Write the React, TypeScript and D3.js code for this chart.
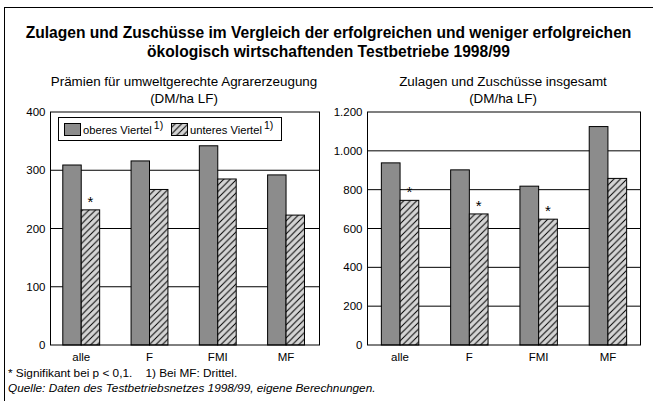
import * as d3 from 'd3';

// Betriebsformen
const categories = ['alle', 'F', 'FMI', 'MF'];

// Prämien für umweltgerechte Agrarerzeugung (DM/ha LF)
const praemienOben = [309, 316, 342, 292];
const praemienUnten = [232, 267, 285, 223];
const praemienSig = [true, false, false, false];
const praemienTicks = [0, 100, 200, 300, 400];

// Zulagen und Zuschüsse insgesamt (DM/ha LF)
const zulagenOben = [938, 902, 818, 1125];
const zulagenUnten = [745, 675, 648, 858];
const zulagenSig = [true, true, true, false];
const zulagenTicks = [0, 200, 400, 600, 800, 1000, 1200];

const DARK = '#8c8c8c';
const LIGHT = '#d4d4d4';
const FONT = '"Liberation Sans", Arial, sans-serif';

const de = d3.formatLocale({ decimal: ',', thousands: '.', grouping: [3], currency: ['', ' DM'] });
const fmt = de.format(',d');

type PanelProps = {
  left: number;
  right: number;
  align: number;
  oben: number[];
  unten: number[];
  sig: boolean[];
  ticks: number[];
  title: string[];
  legend?: boolean;
};

function Panel({ left, right, align, oben, unten, sig, ticks, title, legend }: PanelProps) {
  const top = 112;
  const bottom = 345;
  const yMax = ticks[ticks.length - 1];
  const y = d3.scaleLinear().domain([0, yMax]).range([bottom, top]);
  const x = d3
    .scaleBand()
    .domain(categories)
    .range([left, right])
    .paddingInner(0.46)
    .paddingOuter(0.2)
    .align(align);
  const sub = d3.scaleBand().domain(['o', 'u']).range([0, x.bandwidth()]);
  const cx = (left + right) / 2 - 1;

  return (
    <g>
      {title.map((t, i) => (
        <text key={i} x={cx} y={86 + i * 16.5} textAnchor="middle" fontSize={13.4}>
          {t}
        </text>
      ))}
      {ticks.map((t) => (
        <text key={t} x={left - 5} y={y(t) + 4} textAnchor="end" fontSize={11.5}>
          {fmt(t)}
        </text>
      ))}
      {ticks.slice(1, -1).map((t) => (
        <line key={t} x1={left} x2={right} y1={y(t)} y2={y(t)} stroke="#000" strokeWidth={1} />
      ))}
      {categories.map((c, i) => {
        const x0 = x(c)!;
        const bw = sub.bandwidth();
        return (
          <g key={c}>
            <rect
              x={x0 + sub('o')!}
              y={y(oben[i])}
              width={bw}
              height={bottom - y(oben[i])}
              fill={DARK}
              stroke="#000"
            />
            <rect
              x={x0 + sub('u')!}
              y={y(unten[i])}
              width={bw}
              height={bottom - y(unten[i])}
              fill="url(#hatch)"
              stroke="#000"
            />
            {sig[i] && (
              <text x={x0 + sub('u')! + bw / 2} y={y(unten[i]) - 3} textAnchor="middle" fontSize={15}>
                *
              </text>
            )}
            <text x={x0 + x.bandwidth() / 2} y={361} textAnchor="middle" fontSize={11.5}>
              {c}
            </text>
          </g>
        );
      })}
      <rect x={left} y={top} width={right - left} height={bottom - top} fill="none" stroke="#000" />
      {legend && (
        <g>
          <rect x={58.5} y={117.5} width={223} height={23} fill="#fff" stroke="#000" />
          <rect x={64.5} y={123.5} width={16} height={12} fill={DARK} stroke="#000" />
          <text x={83} y={134} fontSize={11.2}>
            oberes Viertel
            <tspan dx={2} dy={-5} fontSize={10.5}>1)</tspan>
          </text>
          <rect x={171.5} y={123.5} width={16} height={12} fill="url(#hatch)" stroke="#000" />
          <text x={190} y={134} fontSize={11.2}>
            unteres Viertel
            <tspan dx={2} dy={-5} fontSize={10.5}>1)</tspan>
          </text>
        </g>
      )}
    </g>
  );
}

export default function App() {
  return (
    <svg
      width={653}
      height={401}
      style={{ position: 'absolute', left: 0, top: 0, background: '#fff' }}
      fontFamily={FONT}
    >
      <defs>
        <pattern id="hatch" patternUnits="userSpaceOnUse" width={6.5} height={6.5}>
          <rect width={6.5} height={6.5} fill={LIGHT} />
          <path d="M0,6.5 L6.5,0 M-1,1 L1,-1 M5.5,7.5 L7.5,5.5" stroke="#000" strokeWidth={1} />
        </pattern>
      </defs>
      <rect x={4.5} y={7.5} width={660} height={410} fill="none" stroke="#000" />
      <text x={328.5} y={38} textAnchor="middle" fontSize={15.6} fontWeight="bold">
        Zulagen und Zuschüsse im Vergleich der erfolgreichen und weniger erfolgreichen
      </text>
      <text x={328.5} y={57} textAnchor="middle" fontSize={15.6} fontWeight="bold">
        ökologisch wirtschaftenden Testbetriebe 1998/99
      </text>
      <Panel
        left={50.5}
        right={319.5}
        align={0.45}
        oben={praemienOben}
        unten={praemienUnten}
        sig={praemienSig}
        ticks={praemienTicks}
        title={['Prämien für umweltgerechte Agrarerzeugung', '(DM/ha LF)']}
        legend
      />
      <Panel
        left={367.5}
        right={640.5}
        align={0.5}
        oben={zulagenOben}
        unten={zulagenUnten}
        sig={zulagenSig}
        ticks={zulagenTicks}
        title={['Zulagen und Zuschüsse insgesamt', '(DM/ha LF)']}
      />
      <text x={8} y={377} fontSize={11.8}>
        * Signifikant bei p &lt; 0,1.{'\u00a0\u00a0\u00a0\u00a0'}1) Bei MF: Drittel.
      </text>
      <text x={8} y={392} fontSize={11.8} fontStyle="italic">
        Quelle: Daten des Testbetriebsnetzes 1998/99, eigene Berechnungen.
      </text>
    </svg>
  );
}
